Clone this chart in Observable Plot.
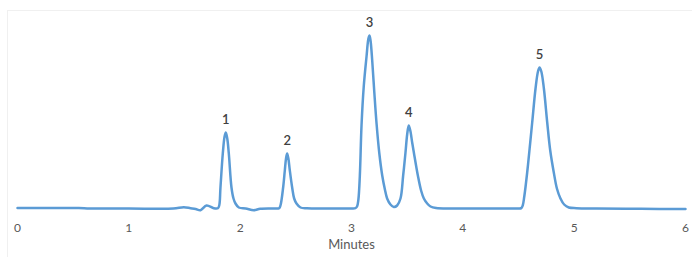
<!DOCTYPE html>
<html>
<head>
<meta charset="utf-8">
<script src="https://cdn.jsdelivr.net/npm/d3@7"></script>
<script src="https://cdn.jsdelivr.net/npm/@observablehq/plot@0.6"></script>
<style>
  html, body { margin: 0; padding: 0; background: #fff; }
  #wrap { position: relative; width: 692px; height: 257px; overflow: hidden; }
  #frame { position: absolute; left: 7px; top: 10px; width: 700px; height: 300px; border: 1px solid #f0f0f0; box-sizing: border-box; }
  #chart { position: absolute; left: 0; top: 0; }
</style>
</head>
<body>
<div id="wrap"><div id="frame"></div><div id="chart"></div></div>
<script>
// Retention time (minutes) and detector signal
const times = [
  0.00, 0.30, 0.55, 0.65, 1.00, 1.40, 1.494, 1.554, 1.60, 1.644, 1.698, 1.763, 1.80,
  1.812, 1.823, 1.844, 1.860, 1.871, 1.884, 1.898, 1.922, 1.940, 1.958, 1.988,
  2.05, 2.123, 2.18, 2.30, 2.35,
  2.362, 2.386, 2.401, 2.412, 2.422, 2.433, 2.446, 2.467, 2.485, 2.506, 2.542, 2.60,
  2.80, 3.00, 3.035, 3.05,
  3.062, 3.075, 3.090, 3.110, 3.135, 3.152, 3.162, 3.172, 3.186, 3.205, 3.225, 3.250,
  3.276, 3.30, 3.32, 3.35, 3.38,
  3.41, 3.44, 3.464, 3.485, 3.50, 3.514, 3.528, 3.545, 3.560, 3.596, 3.625, 3.650,
  3.68, 3.71, 3.76, 3.90, 4.30, 4.50, 4.525, 4.538,
  4.552, 4.578, 4.600, 4.623, 4.653, 4.675, 4.689, 4.705, 4.728, 4.758, 4.785, 4.817,
  4.845, 4.877, 4.91, 4.952, 5.02, 5.20, 5.60, 6.00
];
const signal = [
  0.5, 0.5, 0.5, 0, 0, 0, 1.3, 0.3, -0.5, -1.7, 3, 0.3, 0.3,
  3, 21, 55, 72, 76, 70, 55, 21, 10, 5, 1,
  0, -1.7, -0.3, 0, 0.3,
  3, 21, 38, 50, 55, 50, 38, 21, 10, 5, 1, 0.2,
  0, 0, 0.3, 2,
  9, 33, 83, 122, 152, 170, 173, 167, 148, 116, 85, 55,
  33, 19, 10, 4, 1.5,
  3, 10, 33, 56, 74, 83, 78, 66, 56, 33, 18, 10,
  5, 2, 0.5, 0, 0, 0, 0.4, 3,
  12, 36, 60, 86, 120, 137, 141, 137, 120, 86, 58, 36,
  20, 10, 4, 1, 0.3, 0, -0.3, -0.5
];

// Peak annotations
const peakTimes = [1.871, 2.422, 3.162, 3.514, 4.689];
const peakHeights = [76, 55, 173, 83, 141];
const peakLabels = ["1", "2", "3", "4", "5"];

// Axis
const xTicks = [0, 1, 2, 3, 4, 5, 6];
const xTitle = ["Minutes"];

const trace = times.map((t, i) => ({t, s: signal[i]}));
const peaks = peakTimes.map((t, i) => ({t, s: peakHeights[i], label: peakLabels[i]}));

const chart = Plot.plot({
  width: 692,
  height: 257,
  marginLeft: 17,
  marginRight: 7,
  marginTop: 10,
  marginBottom: 49,
  style: {fontFamily: "Lato, 'Open Sans', sans-serif", fontSize: "12px", color: "#595959", background: "transparent"},
  x: {domain: [0, 6]},
  y: {domain: [0, 198], axis: null},
  marks: [
    Plot.axisX({ticks: xTicks, tickSize: 0, tickPadding: 15, tickFormat: d => String(d), label: null, fill: "#595959", fontSize: 12}),
    Plot.line(trace, {x: "t", y: "s", stroke: "#5b9bd5", strokeWidth: 2.5, curve: "catmull-rom"}),
    Plot.text(peaks, {x: "t", y: "s", text: "label", dy: -13, fill: "#404040", fontSize: 13, fontWeight: 600}),
    Plot.text(xTitle, {frameAnchor: "bottom", text: d => d, dy: 40, fill: "#595959", fontSize: 13})
  ]
});
document.getElementById("chart").appendChild(chart);
</script>
</body>
</html>
